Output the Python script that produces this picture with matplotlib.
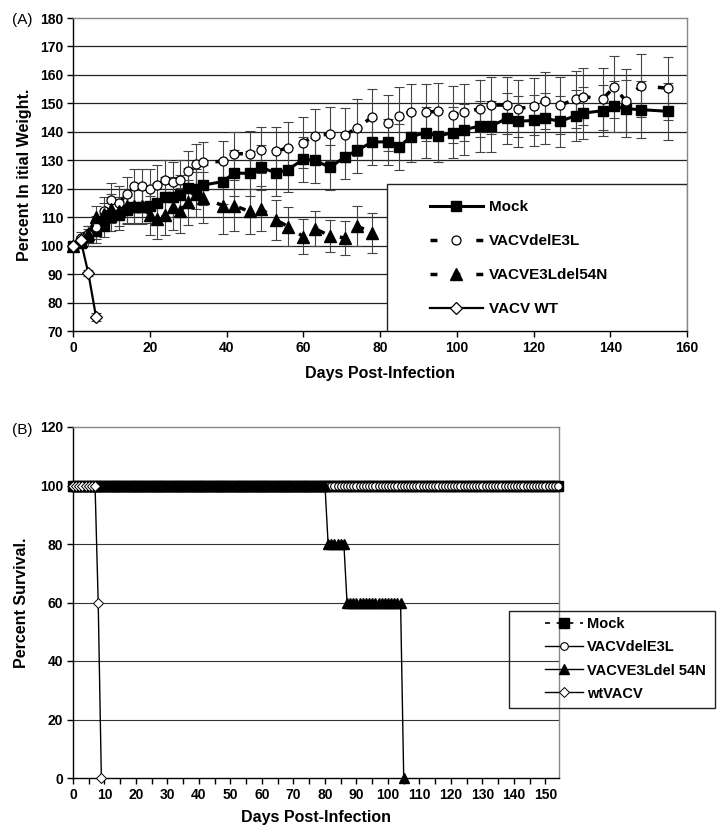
import matplotlib
matplotlib.use("Agg")
import matplotlib.pyplot as plt
from matplotlib.patches import Rectangle

plt.rcParams['font.family'] = ['Liberation Sans', 'DejaVu Sans']
plt.rcParams['font.weight'] = 'bold'

# ---------------- Panel A data ----------------
days_a = [0, 2, 4, 6, 8, 10, 12, 14, 16, 18, 20, 22, 24, 26, 28, 30, 32, 34,
          39, 42, 46, 49, 53, 56, 60, 63, 67, 71, 74, 78,
          82, 85, 88, 92, 95, 99, 102, 106, 109, 113, 116, 120, 123, 127, 131,
          133, 138, 141, 144, 148, 155]
mock_w = [100, 101, 103, 105, 107, 110, 110.6, 112.5, 113.5, 113.5, 114, 115,
          117, 117.2, 117.8, 120.3, 120, 121.3,
          122.5, 125.5, 125.4, 127.5, 125.5, 126.7, 130.3, 130, 127.5, 131.3,
          133.5, 136.4,
          136.5, 134.7, 138.3, 139.7, 138.5, 139.7, 140.8, 142, 142, 144.7,
          143.7, 144, 144.7, 143.7, 145.7, 146.6, 147.4, 149, 148.1, 147.8, 147.2]
mock_err = [0, 2, 3, 4, 4, 5, 5, 5, 6, 6, 6, 7, 7, 7, 7, 7, 7, 7,
            8, 8, 8, 8, 8, 8, 8, 8, 8, 8, 8, 8,
            8, 8, 9, 9, 9, 9, 9, 9, 9, 9, 9, 9, 9, 9, 9, 9, 9, 9, 10, 10, 10]
dele3l_w = [100, 102.7, 104, 106.5, 112, 116, 115, 118, 121, 121, 120, 121.4,
            123, 122.4, 123, 126.3, 128.6, 129.3,
            129.6, 132.3, 132.3, 133.6, 133.2, 134.4, 136.2, 138.6, 139.2, 139,
            141.4, 145.2,
            143.1, 145.7, 146.9, 146.9, 147.2, 146, 146.9, 148.1, 149.4, 149.4,
            148.1, 149, 151, 149.4, 151.5, 152.4, 151.5, 155.7, 151, 156.2, 155.3]
dele3l_err = [0, 2, 3, 4, 5, 6, 6, 6, 6, 6, 7, 7, 7, 7, 7, 7, 7, 7,
              7, 7.5, 8, 8, 8.5, 9, 9, 9.5, 9.5, 9.5, 10, 10,
              10, 10, 10, 10, 10, 10, 10, 10, 10, 10, 10, 10, 10, 10, 10, 10,
              11, 11, 11, 11, 11]
days_54n = [0, 2, 4, 6, 8, 10, 12, 14, 16, 18, 20, 22, 24, 26, 28, 30, 32, 34,
            39, 42, 46, 49, 53, 56, 60, 63, 67, 71, 74, 78]
e3l54n_w = [100, 101.5, 104, 110, 111, 113, 112, 114, 114, 114, 110.6, 109.2,
            110.6, 113.5, 112.3, 115.2, 118, 116.8,
            114.1, 114.1, 112, 113, 109, 106.7, 103.2, 106, 103.4, 102.7, 106.9,
            104.5]
e3l54n_err = [0, 2, 3, 4, 4, 5, 5, 6, 6, 6, 7, 7, 7, 8, 8, 8, 8, 9,
              10, 9, 8, 8, 7, 7, 6, 6, 5.5, 6, 7, 7]
days_wt = [0, 2, 4, 6]
wt_w = [100, 101.9, 90.3, 75]
wt_err = [0, 1, 1, 1.5]

# ---------------- Panel B data ----------------
days_b = list(range(0, 155))
mock_s = [100] * 155
dele3l_s = [100] * 155
days_b54 = list(range(0, 106))
e3l54n_s = [100] * 81 + [80] * 6 + [60] * 18 + [0]
days_bwt = list(range(0, 10))
wt_s = [100] * 8 + [60, 0]

W, H = 728, 830
fig = plt.figure(figsize=(W / 100, H / 100), dpi=100)

# ================= Panel A =================
axA = fig.add_axes([73 / W, 1 - 331 / H, 614 / W, 313 / H])
axA.set_xlim(0, 160)
axA.set_ylim(70, 180)
axA.set_yticks(range(70, 181, 10))
axA.set_xticks(range(0, 161, 20))
for y in range(80, 180, 10):
    axA.axhline(y, color='#222222', lw=0.9, zorder=1)

ebkw = dict(fmt='none', ecolor='#444444', elinewidth=0.8, capsize=3.5,
            capthick=0.8, zorder=3)
axA.errorbar(days_a, mock_w, yerr=mock_err, **ebkw)
axA.errorbar(days_a, dele3l_w, yerr=dele3l_err, **ebkw)
axA.errorbar(days_54n, e3l54n_w, yerr=e3l54n_err, **ebkw)
axA.errorbar(days_wt, wt_w, yerr=wt_err, **ebkw)

hA1, = axA.plot(days_a, mock_w, color='black', lw=2.2, marker='s', ms=7.5,
                mfc='black', mec='black', zorder=4, clip_on=False, label='Mock')
hA2, = axA.plot(days_a, dele3l_w, color='black', lw=2.5, ls=(0, (2, 4.6)),
                marker='o', ms=6.5, mfc='white', mec='black', mew=0.9,
                zorder=5, clip_on=False, label='VACVdelE3L')
hA3, = axA.plot(days_54n, e3l54n_w, color='black', lw=2.5, ls=(0, (2, 4.6)),
                marker='^', ms=8, mfc='black', mec='black', zorder=6,
                clip_on=False, label='VACVE3Ldel54N')
hA4, = axA.plot(days_wt, wt_w, color='black', lw=1.6, marker='D', ms=6.5,
                mfc='white', mec='black', mew=0.9, zorder=7, clip_on=False,
                label='VACV WT')

rect = Rectangle((0.511, 0.0), 0.489, 0.47, transform=axA.transAxes,
                 facecolor='white', edgecolor='#222222', lw=1, zorder=8)
axA.add_patch(rect)
legA = axA.legend(handles=[hA1, hA2, hA3, hA4], loc='center left',
                  bbox_to_anchor=(0.581, 0.233), frameon=False,
                  prop={'size': 11, 'weight': 'bold'}, handlelength=3.46,
                  handletextpad=0.4, labelspacing=1.3, borderpad=0,
                  borderaxespad=0)
legA.set_zorder(9)

for s in ['left', 'bottom']:
    axA.spines[s].set_color('black')
    axA.spines[s].set_linewidth(1)
for s in ['top', 'right']:
    axA.spines[s].set_color('#888888')
    axA.spines[s].set_linewidth(1)
axA.tick_params(axis='both', direction='out', length=4, width=1,
                labelsize=10, pad=3)
axA.set_xlabel('Days Post-Infection', fontsize=11.5, fontweight='bold',
               labelpad=8)
axA.set_ylabel('Percent In itial Weight.', fontsize=11.5, fontweight='bold',
               labelpad=6)
fig.text(12 / W, 1 - 20 / H, '(A)', fontsize=11, fontweight='normal',
         va='center', ha='left')

# ================= Panel B =================
axB = fig.add_axes([73 / W, 1 - 778 / H, 486 / W, 351 / H])
axB.set_xlim(0, 154.3)
axB.set_ylim(0, 120)
axB.set_yticks(range(0, 121, 20))
xt = list(range(0, 155, 5))
axB.set_xticks(xt)
axB.set_xticklabels([str(v) if v % 10 == 0 else '' for v in xt])
for y in range(20, 120, 20):
    axB.axhline(y, color='#333333', lw=0.8, zorder=1)

hB1, = axB.plot(days_b, mock_s, color='black', lw=1.2, ls=(0, (3, 4)),
                marker='s', ms=7, mfc='black', mec='black', zorder=3,
                clip_on=False, label='Mock')
hB2, = axB.plot(days_b, dele3l_s, color='black', lw=1, marker='o', ms=5.5,
                mfc='white', mec='black', mew=0.8, zorder=4, clip_on=False,
                label='VACVdelE3L')
hB3, = axB.plot(days_b54, e3l54n_s, color='black', lw=1, marker='^', ms=6.5,
                mfc='black', mec='black', zorder=5, clip_on=False,
                label='VACVE3Ldel 54N')
hB4, = axB.plot(days_bwt, wt_s, color='black', lw=1, marker='D', ms=5,
                mfc='white', mec='black', mew=0.7, zorder=6, clip_on=False,
                label='wtVACV')

for s in ['left', 'bottom']:
    axB.spines[s].set_color('black')
    axB.spines[s].set_linewidth(1)
for s in ['top', 'right']:
    axB.spines[s].set_color('#888888')
    axB.spines[s].set_linewidth(1)
axB.tick_params(axis='both', direction='out', length=4, width=1,
                labelsize=10, pad=3)
axB.set_xlabel('Days Post-Infection', fontsize=11.5, fontweight='bold',
               labelpad=6)
axB.set_ylabel('Percent Survival.', fontsize=11.5, fontweight='bold',
               labelpad=8)
fig.text(12 / W, 1 - 430 / H, '(B)', fontsize=11, fontweight='normal',
         va='center', ha='left')

rectB = Rectangle((509 / W, 1 - 708 / H), (715 - 509) / W, (708 - 610.7) / H,
                  transform=fig.transFigure, fill=False, edgecolor='#222222',
                  lw=1, zorder=10)
fig.patches.append(rectB)
legB = fig.legend(handles=[hB1, hB2, hB3, hB4], loc='center left',
                  bbox_to_anchor=(545 / W, 1 - 659 / H), frameon=False,
                  prop={'size': 10.5, 'weight': 'bold'}, handlelength=2.6,
                  handletextpad=0.3, labelspacing=0.62, borderpad=0,
                  borderaxespad=0)

fig.savefig('out.png', dpi=100)
